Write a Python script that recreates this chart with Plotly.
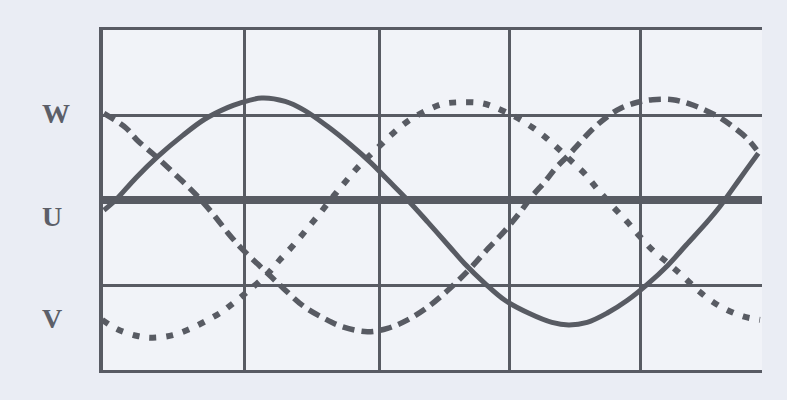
import plotly.graph_objects as go

# Phase angle (degrees) and relative amplitude
solid_x = [-6, 1, 13, 26, 41, 54, 68, 75, 88, 102, 113, 127, 141, 153, 163, 175, 187, 200, 209, 221,
           233, 247, 261, 271, 282, 294, 306, 318, 330, 341, 353, 361, 369, 377, 384]
solid_y = [-0.12, 0.0, 0.26, 0.51, 0.76, 0.95, 1.09, 1.14, 1.20, 1.16, 1.06, 0.87, 0.65, 0.44, 0.24, 0.0,
           -0.26, -0.55, -0.75, -0.98, -1.18, -1.33, -1.44, -1.47, -1.44, -1.33, -1.18, -0.99, -0.77,
           -0.53, -0.27, -0.08, 0.14, 0.36, 0.55]

dashed_x = [-6, 7, 14, 24, 36, 48, 58, 68, 76, 86, 94, 101, 113, 125, 136, 151, 163, 175, 187, 198,
            205, 213, 223, 233, 241, 249, 257, 263, 271, 277, 285, 294, 302, 312, 321, 333, 343, 353,
            361, 369, 377, 383]
dashed_y = [1.02, 0.85, 0.70, 0.53, 0.31, 0.08, -0.14, -0.39, -0.57, -0.76, -0.91, -1.04, -1.25, -1.39,
            -1.49, -1.55, -1.51, -1.41, -1.26, -1.08, -0.95, -0.79, -0.57, -0.36, -0.17, 0.04, 0.22,
            0.37, 0.53, 0.66, 0.83, 0.98, 1.08, 1.15, 1.18, 1.18, 1.13, 1.05, 0.97, 0.86, 0.73, 0.59]

dotted_x = [-7, 2, 14, 23, 35, 46, 56, 64, 70, 80, 92, 99, 107, 115, 123, 131, 139, 147, 157, 166,
            176, 187, 196, 206, 219, 227, 239, 249, 257, 265, 273, 281, 288, 297, 306, 313, 321, 330,
            337, 343, 349, 357, 365, 375, 385]
dotted_y = [-1.41, -1.52, -1.60, -1.62, -1.59, -1.51, -1.41, -1.32, -1.23, -1.07, -0.86, -0.70, -0.53,
            -0.34, -0.15, 0.05, 0.24, 0.42, 0.61, 0.78, 0.94, 1.06, 1.13, 1.15, 1.14, 1.09, 0.98, 0.86,
            0.74, 0.60, 0.45, 0.30, 0.13, -0.07, -0.26, -0.42, -0.59, -0.74, -0.86, -0.97, -1.08,
            -1.20, -1.29, -1.37, -1.41]

grid_x = [78, 158, 236, 314]
grid_y = [-1, 0, 1]
label_vals = [1.02, -0.19, -1.39]
label_text = ["W", "U", "V"]

ink = "#585b63"

fig = go.Figure()
fig.add_trace(go.Scatter(x=dotted_x, y=dotted_y, mode="lines",
                         line=dict(color=ink, width=6, dash="7px,10px", shape="spline", smoothing=1.0),
                         showlegend=False, hoverinfo="skip"))
fig.add_trace(go.Scatter(x=dashed_x, y=dashed_y, mode="lines",
                         line=dict(color=ink, width=5.5, dash="12px,7px", shape="spline", smoothing=1.0),
                         showlegend=False, hoverinfo="skip"))
fig.add_trace(go.Scatter(x=solid_x, y=solid_y, mode="lines",
                         line=dict(color=ink, width=5, shape="spline", smoothing=1.0),
                         showlegend=False, hoverinfo="skip"))

for val, txt in zip(label_vals, label_text):
    fig.add_annotation(xref="paper", yref="y", x=-0.096, y=val, text=txt, showarrow=False,
                       xanchor="left", yanchor="middle",
                       font=dict(family="Liberation Serif", size=28, color="#5c5f68", weight="bold"))

fig.update_layout(
    width=787, height=400,
    margin=dict(l=103, r=25, t=30, b=30, autoexpand=False),
    paper_bgcolor="#eaedf4",
    plot_bgcolor="#f1f3f8",
    showlegend=False,
    hovermode=False,
    xaxis=dict(range=[-6.56, 386.2], tickvals=grid_x, showticklabels=False, ticks="",
               showgrid=True, gridcolor=ink, gridwidth=2.5, zeroline=False,
               showline=True, linecolor=ink, linewidth=3, mirror=True),
    yaxis=dict(range=[-2, 2], tickvals=grid_y, showticklabels=False, ticks="",
               showgrid=True, gridcolor=ink, gridwidth=2.5,
               zeroline=True, zerolinecolor=ink, zerolinewidth=8,
               showline=True, linecolor=ink, linewidth=4, mirror=False),
)

fig.write_html("out.html", config={"displayModeBar": False},
               post_script="document.body.style.margin='0';document.body.style.padding='0';")
